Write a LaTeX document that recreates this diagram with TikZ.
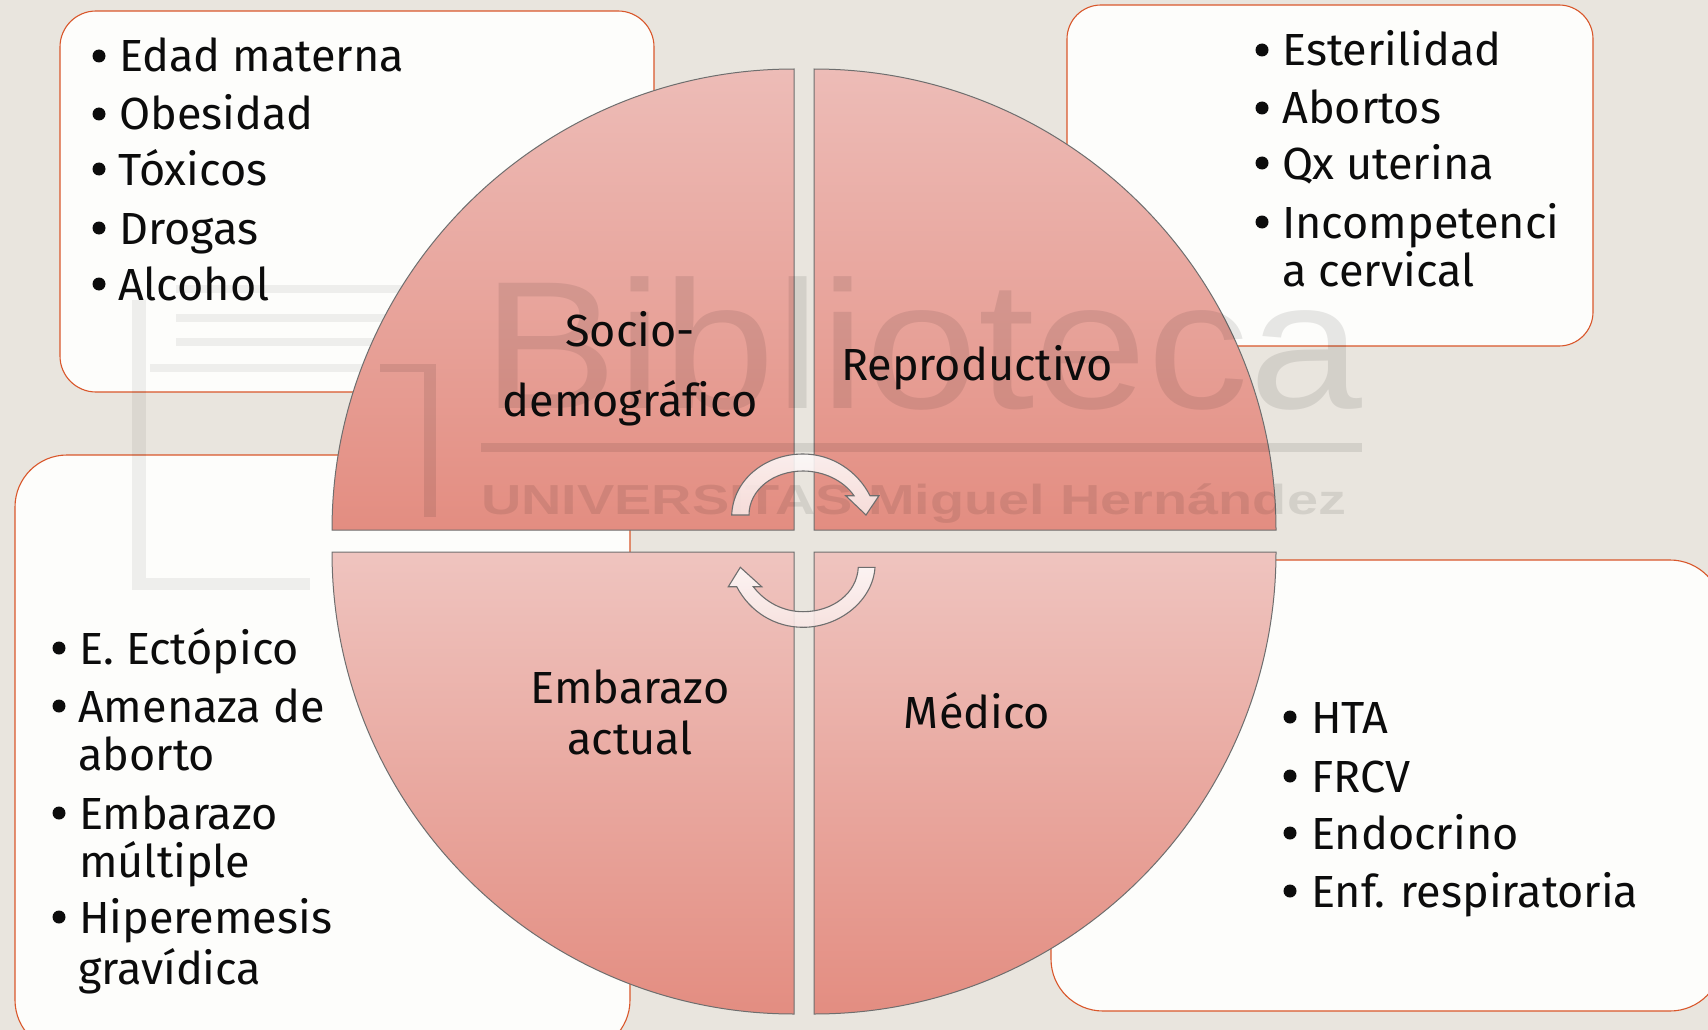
\documentclass[tikz,border=0pt]{standalone}
\usepackage{fontspec}
\setmainfont[Ligatures=NoCommon]{Fira Sans}
\newfontfamily\wmfont{Liberation Sans}
\definecolor{pagebg}{HTML}{E9E5DE}
\definecolor{boxfill}{HTML}{FDFDFB}
\definecolor{boxline}{HTML}{D9572B}
\definecolor{pietop}{HTML}{EFC4BF}
\definecolor{pietopup}{HTML}{EDBCB7}
\definecolor{piebot}{HTML}{E38D81}
\definecolor{pieline}{HTML}{6E6E6E}
\definecolor{txt}{HTML}{0C0C0C}
\tikzset{
  x=1pt,y=-1pt,
  infobox/.style={fill=boxfill,draw=boxline,line width=1.1pt,rounded corners=#1},
  quadrant/.style={top color=pietop,bottom color=piebot,draw=pieline,line width=1pt},
  quadrantup/.style={top color=pietopup,bottom color=piebot,draw=pieline,line width=1pt},
  item/.style={anchor=base west,inner sep=0pt,text=txt,font=\fontsize{45}{45}\selectfont},
  head/.style={anchor=base,inner sep=0pt,text=txt,font=\fontsize{45}{45}\selectfont},
  bulletdot/.style={circle,fill=txt,inner sep=0pt,minimum size=13pt},
  spin/.style={top color=white!92!pietop,bottom color=white!60!pietop,fill opacity=.88},
  wm/.style={opacity=.09,black},
  wmfaint/.style={opacity=.06,black},
}
\newcommand{\bul}[5]{% name, bullet x, text x, baseline, text
  \node[bulletdot] (#1b) at (#2,#4-16) {};
  \node[item] (#1) at (#3,#4) {#5};}
\begin{document}
\begin{tikzpicture}
\useasboundingbox (0,0) rectangle (1708,1030);
\clip (0,0) rectangle (1708,1030);
\fill[pagebg] (0,0) rectangle (1708,1030);
% panels
\path[infobox=36pt] (60,11) rectangle (654,392);
\path[infobox=34pt] (1067,5) rectangle (1593,346);
\path[infobox=52pt] (15,455) rectangle (630,1052);
\path[infobox=52pt] (1051,560) rectangle (1722,1011);
% watermark logo
\fill[wmfaint] (176,285) rectangle (424,293);
\fill[wmfaint] (176,314) rectangle (424,322);
\fill[wmfaint] (176,338) rectangle (424,346);
\fill[wmfaint] (150,364) rectangle (432,372);
\fill[wmfaint] (132,300) rectangle (146,590);
\fill[wmfaint] (146,578) rectangle (310,590);
% pie
\path[quadrantup] (794,69) .. controls (539,69) and (332,276) .. (332,530) -- (794,530) -- cycle;
\path[quadrantup] (814,69) .. controls (1069,69) and (1276,276) .. (1276,530) -- (814,530) -- cycle;
\path[quadrant] (794,1014) .. controls (539,1014) and (332,807) .. (332,552) -- (794,552) -- cycle;
\path[quadrant] (814,1014) .. controls (1069,1014) and (1276,807) .. (1276,552) -- (814,552) -- cycle;
% watermark
\node[wm,anchor=base west,inner sep=0pt,font=\wmfont\fontsize{182}{182}\selectfont] (wmA) at (482,408) {\scalebox{1.115}[1]{Biblioteca}};
\fill[wm] (481,443) rectangle (1362,452);
\node[wm,anchor=base west,inner sep=0pt,font=\wmfont\bfseries\fontsize{42}{42}\selectfont] (wmB) at (481,514) {\scalebox{1.33}[1]{UNIVERSITAS Miguel Hernández}};
\fill[wm] (424,372) rectangle (436,517);
\fill[wm] (380,364) rectangle (436,372);
% rotating arrows
\path[spin,draw=pieline,line width=1.1pt,line join=miter]
  (731.7,515) .. controls (733,480) and (765,454) .. (803,454)
  .. controls (833,454) and (858,472) .. (870,495.7)
  -- (879,495.7) -- (866,515) -- (845.7,495.7) -- (854,495.7)
  .. controls (843,480) and (823,471) .. (803,471)
  .. controls (773,471) and (749,490) .. (749,515) -- cycle;
\path[spin,draw=pieline,line width=1.1pt,line join=miter]
  (875,567.3) .. controls (873,600) and (840,627.3) .. (803,627.3)
  .. controls (775,627.3) and (750,612) .. (736.7,586.7)
  -- (728.3,586.7) -- (740.3,567.3) -- (761.7,586.7) -- (753.3,586.7)
  .. controls (765,602) and (783,611.7) .. (803,611.7)
  .. controls (833,611.7) and (857,593) .. (858.3,567.3) -- cycle;
% lists
\bul{a}{99}{119}{72}{Edad materna}
\bul{b}{99}{119}{130}{Obesidad}
\bul{c}{99}{118}{185}{Tóxicos}
\bul{d}{99}{119}{244}{Drogas}
\bul{e}{99}{118}{300}{Alcohol}
\bul{f}{1262}{1282}{66}{Esterilidad}
\bul{g}{1262}{1282}{124}{Abortos}
\bul{h}{1262}{1282}{179}{Qx uterina}
\bul{i}{1262}{1282}{238}{Incompetenci}
\node[item] (i2) at (1282,286) {a cervical};
\bul{j}{59}{79}{664}{E. Ectópico}
\bul{k}{59}{78}{722}{Amenaza de}
\node[item] (k2) at (78,770) {aborto};
\bul{l}{59}{79}{829}{Embarazo}
\node[item] (l2) at (79,877) {múltiple};
\bul{m}{59}{79}{933}{Hiperemesis}
\node[item] (m2) at (78,984) {gravídica};
\bul{n}{1290}{1311}{733}{HTA}
\bul{o}{1290}{1311}{792}{FRCV}
\bul{p}{1290}{1311}{849}{Endocrino}
\bul{q}{1290}{1311}{907}{Enf. respiratoria}
% quadrant labels
\node[head] (s1) at (630,346) {Socio-};
\node[head] (s2) at (630,416) {demográfico};
\node[head] (r1) at (977,380) {Reproductivo};
\node[head] (e1) at (630,703) {Embarazo};
\node[head] (e2) at (630,754) {actual};
\node[head] (m1) at (977,728) {Médico};
\end{tikzpicture}
\end{document}
